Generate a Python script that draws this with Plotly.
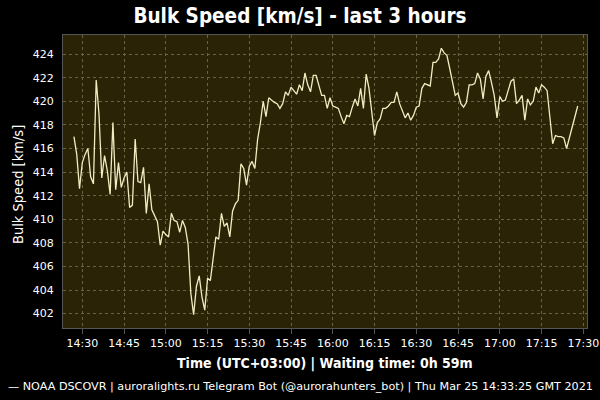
import plotly.graph_objects as go

DATE = "2021-03-25"
times = [
    "14:27", "14:28", "14:29", "14:30", "14:31", "14:32", "14:33", "14:34", "14:35", "14:36",
    "14:37", "14:38", "14:39", "14:40", "14:41", "14:42", "14:43", "14:44", "14:45", "14:46",
    "14:47", "14:48", "14:49", "14:50", "14:51", "14:52", "14:53", "14:54", "14:55", "14:56",
    "14:57", "14:58", "14:59", "15:00", "15:01", "15:02", "15:03", "15:04", "15:05", "15:06",
    "15:07", "15:08", "15:09", "15:10", "15:11", "15:12", "15:13", "15:14", "15:15", "15:16",
    "15:17", "15:18", "15:19", "15:20", "15:21", "15:22", "15:23", "15:24", "15:25", "15:26",
    "15:27", "15:28", "15:29", "15:30", "15:31", "15:32", "15:33", "15:34", "15:35", "15:36",
    "15:37", "15:38", "15:39", "15:40", "15:41", "15:42", "15:43", "15:44", "15:45", "15:46",
    "15:47", "15:48", "15:49", "15:50", "15:51", "15:52", "15:53", "15:54", "15:55", "15:56",
    "15:57", "15:58", "15:59", "16:00", "16:01", "16:02", "16:03", "16:04", "16:05", "16:06",
    "16:07", "16:08", "16:09", "16:10", "16:11", "16:12", "16:13", "16:14", "16:15", "16:16",
    "16:17", "16:18", "16:19", "16:20", "16:21", "16:22", "16:23", "16:24", "16:25", "16:26",
    "16:27", "16:28", "16:29", "16:30", "16:31", "16:32", "16:33", "16:34", "16:35", "16:36",
    "16:37", "16:38", "16:39", "16:40", "16:41", "16:42", "16:43", "16:44", "16:45", "16:46",
    "16:47", "16:48", "16:49", "16:50", "16:51", "16:52", "16:53", "16:54", "16:55", "16:56",
    "16:57", "16:58", "16:59", "17:00", "17:01", "17:02", "17:03", "17:04", "17:05", "17:06",
    "17:07", "17:08", "17:09", "17:10", "17:11", "17:12", "17:13", "17:14", "17:15", "17:16",
    "17:17", "17:18", "17:19", "17:20", "17:21", "17:22", "17:23", "17:24", "17:28",
]
speed = [
    417.0, 415.5, 412.6, 414.8, 415.5, 416.0, 413.6, 413.0, 421.8, 418.9,
    413.5, 415.4, 414.1, 412.1, 418.2, 412.5, 414.8, 412.7, 413.5, 414.0,
    411.0, 411.2, 416.8, 413.2, 413.1, 414.4, 410.5, 413.0, 410.8, 410.3,
    409.8, 407.8, 409.0, 408.7, 408.5, 410.5, 409.9, 409.8, 408.9, 409.9,
    409.3, 407.9, 403.7, 401.9, 404.3, 405.2, 403.4, 402.3, 405.0, 404.8,
    406.7, 408.5, 408.3, 410.5, 409.4, 409.7, 408.5, 410.7, 411.3, 411.6,
    414.7, 414.3, 412.9, 414.5, 414.9, 414.3, 416.8, 418.2, 420.0, 418.7,
    420.3, 420.1, 419.9, 419.8, 419.4, 419.8, 420.8, 420.5, 421.2, 420.9,
    420.6, 421.4, 420.9, 422.4, 421.4, 420.8, 422.2, 422.2, 421.3, 420.5,
    420.5, 419.4, 420.3, 419.6, 419.5, 419.4, 418.7, 418.1, 418.8, 418.7,
    419.5, 420.2, 419.6, 421.1, 419.4, 422.3, 421.1, 418.8, 417.1, 418.2,
    418.5, 419.4, 419.4, 419.6, 419.9, 419.9, 420.8, 419.8, 419.2, 418.6,
    419.0, 418.4, 418.8, 419.5, 419.6, 421.1, 421.5, 421.4, 421.3, 423.3,
    423.3, 423.6, 424.5, 424.1, 423.9, 422.8, 421.6, 420.5, 420.7, 419.8,
    419.5, 419.9, 421.4, 421.4, 421.5, 422.4, 421.9, 420.2, 422.1, 422.6,
    421.6, 420.5, 418.6, 420.4, 420.0, 420.1, 420.9, 421.7, 421.9, 419.8,
    420.1, 420.5, 418.4, 420.2, 419.7, 420.0, 421.2, 420.7, 421.4, 421.2,
    420.9, 418.6, 416.4, 417.1, 417.0, 417.0, 416.9, 416.0, 419.6,
]
y_ticks = [402, 404, 406, 408, 410, 412, 414, 416, 418, 420, 422, 424]

title_text = "Bulk Speed [km/s] - last 3 hours"
y_title = "Bulk Speed [km/s]"
x_title = "Time (UTC+03:00) | Waiting time: 0h 59m"
footer = ("\u2014 NOAA DSCOVR | auroralights.ru Telegram Bot (@aurorahunters_bot) | "
          "Thu Mar 25 14:33:25 GMT 2021")

x = [f"{DATE} {t}" for t in times]

FONT = "DejaVu Sans"
COND = "DejaVu Sans Condensed"
fig = go.Figure()
fig.add_trace(go.Scatter(
    x=x, y=speed, mode="lines",
    line=dict(color="#f3ecc0", width=1.3),
    hoverinfo="skip", showlegend=False,
))

fig.update_layout(
    width=600, height=400,
    paper_bgcolor="#000000",
    plot_bgcolor="#2a2306",
    margin=dict(l=63, r=13, t=35, b=72, autoexpand=False),
    font=dict(family=FONT, color="#ffffff", size=11),
    title=dict(text="<b>" + title_text + "</b>", x=0.5, xanchor="center",
               y=1 - 16 / 400, yanchor="middle", yref="container",
               font=dict(family=COND, size=20.5, color="#ffffff")),
    showlegend=False,
)
fig.update_xaxes(
    type="date", automargin=False,
    range=[f"{DATE} 14:23:04", f"{DATE} 17:31:20"],
    tick0=f"{DATE} 14:30", dtick=15 * 60 * 1000,
    tickformat="%H:%M",
    showgrid=True, gridcolor="#6b6243", gridwidth=1, griddash="3px,3px",
    showline=True, linecolor="#555555", linewidth=1, mirror=True,
    ticks="outside", ticklen=5, tickcolor="#555555",
    tickfont=dict(family=FONT, size=11, color="#ffffff"),
    zeroline=False,
)
fig.update_yaxes(
    automargin=False,
    range=[400.78, 425.62],
    tickvals=y_ticks,
    showgrid=True, gridcolor="#6b6243", gridwidth=1, griddash="3px,3px",
    showline=True, linecolor="#555555", linewidth=1, mirror=True,
    ticks="", ticklabelstandoff=6,
    tickfont=dict(family=FONT, size=11, color="#ffffff"),
    zeroline=False,
)

fig.add_annotation(text="<b>" + x_title + "</b>", xref="paper", yref="paper",
                   x=0.5, y=(328 - 363) / 293, xanchor="center", yanchor="middle",
                   showarrow=False,
                   font=dict(family=COND, size=14, color="#ffffff"))
fig.add_annotation(text=y_title, xref="paper", yref="paper",
                   x=(18 - 63) / 524, y=(328 - 185) / 293, xanchor="center", yanchor="middle",
                   textangle=-90, showarrow=False,
                   font=dict(family=COND, size=14.5, color="#ffffff"))
fig.add_annotation(text=footer, xref="paper", yref="paper",
                   x=(300 - 63) / 524, y=(328 - 386) / 293, xanchor="center", yanchor="middle",
                   showarrow=False,
                   font=dict(family=FONT, size=11.2, color="#ffffff"))

fig.write_html("out.html", config={"displayModeBar": False},
               post_script="document.body.style.margin='0';")
